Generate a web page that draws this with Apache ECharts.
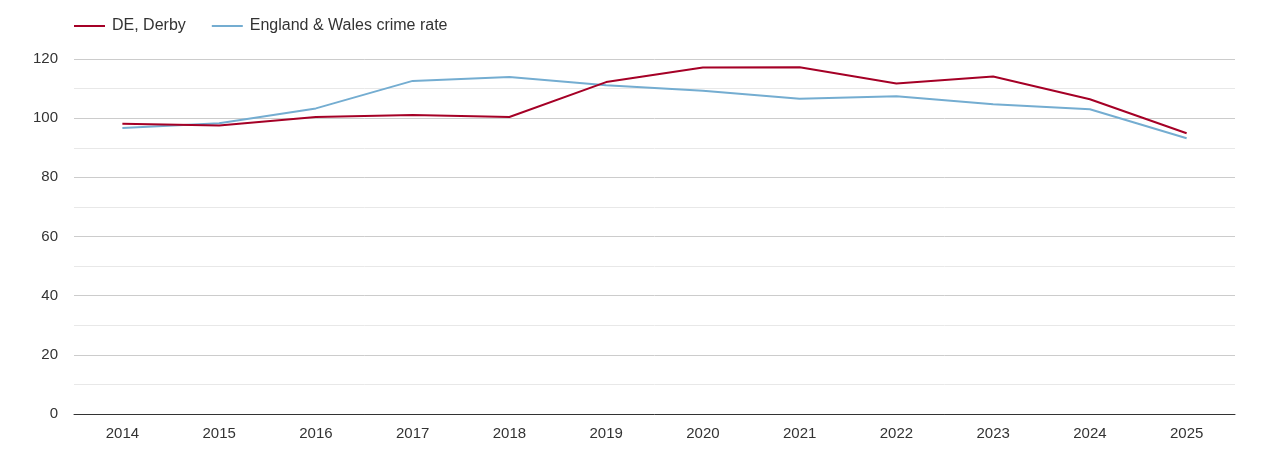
<!DOCTYPE html>
<html>
<head>
<meta charset="utf-8">
<script src="https://cdn.jsdelivr.net/npm/echarts@6/dist/echarts.min.js"></script>
<style>
html,body{margin:0;padding:0;background:#fff;}
#chart{width:1270px;height:450px;}
</style>
</head>
<body>
<div id="chart"></div>
<script>
var years = ['2014','2015','2016','2017','2018','2019','2020','2021','2022','2023','2024','2025'];
var derby = [98.1, 97.5, 100.4, 101.1, 100.4, 112.2, 117.1, 117.2, 111.7, 114.1, 106.4, 94.9];
var englandWales = [96.7, 98.3, 103.3, 112.6, 113.9, 111.1, 109.3, 106.6, 107.4, 104.7, 103.0, 93.2];
var seriesNames = ['DE, Derby', 'England & Wales crime rate'];
var seriesColors = ['#a50026', '#74add1'];

var chart = echarts.init(document.getElementById('chart'));
var font = '"Liberation Sans", Arial, sans-serif';
chart.setOption({
  animation: false,
  textStyle: { fontFamily: font },
  legend: {
    left: 69,
    top: 13,
    icon: 'rect',
    itemWidth: 31,
    itemHeight: 2,
    itemGap: 26,
    textStyle: { fontSize: 16, color: '#333', fontFamily: font, padding: [0, 0, 0, 2] },
    data: seriesNames
  },
  grid: { left: 74, right: 35, top: 59, bottom: 36 },
  xAxis: {
    type: 'category',
    data: years,
    boundaryGap: true,
    axisTick: { show: false },
    axisLine: { lineStyle: { color: '#333', width: 1 } },
    axisLabel: { fontSize: 15, color: '#333', margin: 12, fontFamily: font }
  },
  yAxis: {
    type: 'value',
    min: 0,
    max: 120,
    interval: 20,
    axisLine: { show: false },
    axisTick: { show: false },
    axisLabel: { fontSize: 15, color: '#333', margin: 16, fontFamily: font, padding: [4, 0, 0, 0] },
    splitLine: { lineStyle: { color: '#cccccc', width: 1 } },
    minorTick: { show: false, splitNumber: 2 },
    minorSplitLine: { show: true, lineStyle: { color: '#e8e8e8', width: 1 } }
  },
  series: [
    {
      name: seriesNames[0],
      type: 'line',
      data: derby,
      symbol: 'none',
      color: seriesColors[0],
      lineStyle: { width: 2 },
      z: 3
    },
    {
      name: seriesNames[1],
      type: 'line',
      data: englandWales,
      symbol: 'none',
      color: seriesColors[1],
      lineStyle: { width: 2 },
      z: 2
    }
  ]
});
</script>
</body>
</html>
